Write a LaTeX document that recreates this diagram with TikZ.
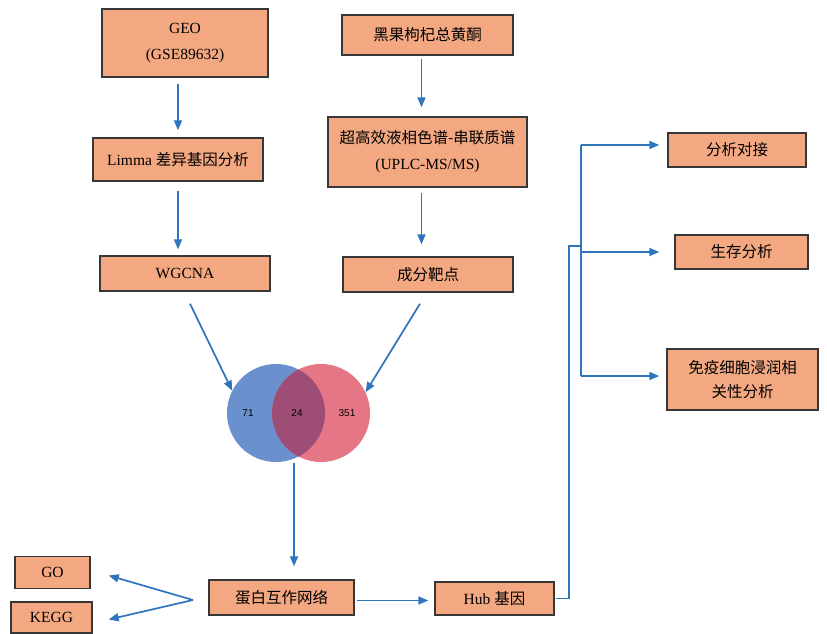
\documentclass[tikz,border=0pt]{standalone}
\usepackage{fontspec}
\setmainfont{Liberation Serif}
\newfontfamily\cjk{Noto Sans CJK SC}
\newfontfamily\arialf{Liberation Sans}
\usetikzlibrary{arrows.meta,calc}
\definecolor{boxfill}{RGB}{243,168,130}
\definecolor{boxline}{RGB}{55,55,55}
\definecolor{arrowblue}{RGB}{46,117,190}
\definecolor{vennblue}{RGB}{106,145,205}
\definecolor{vennred}{RGB}{228,118,134}
\definecolor{vennmix}{RGB}{158,78,118}
\begin{document}
\begin{tikzpicture}[x=1pt,y=-1pt,
  box/.style={draw=boxline,line width=1.4pt,fill=boxfill,inner sep=0pt,align=center,
    font=\fontsize{15.5}{26}\selectfont},
  arr/.style={draw=arrowblue,line width=1.7pt,-{Triangle[length=10pt,width=8pt]}},
  ln/.style={draw=arrowblue,line width=1.7pt},
  num/.style={font=\arialf\fontsize{10}{11}\selectfont,inner sep=0pt}]
\useasboundingbox (0,0) rectangle (827,633);
\fill[white] (0,0) rectangle (827,633);

% boxes
\node[box,minimum width=166pt,minimum height=68pt] (geo) at (185,43) {GEO\\(GSE89632)};
\node[box,minimum width=171pt,minimum height=40pt] (hei) at (427.5,35) {\cjk 黑果枸杞总黄酮};
\node[box,minimum width=170pt,minimum height=43pt] (limma) at (178,159.5) {Limma {\cjk 差异基因分析}};
\node[box,minimum width=199pt,minimum height=70pt] (uplc) at (427.5,152) {{\cjk 超高效液相色谱-串联质谱}\\(UPLC-MS/MS)};
\node[box,minimum width=170pt,minimum height=35pt] (wgcna) at (185,273.5) {WGCNA};
\node[box,minimum width=170pt,minimum height=35pt] (cf) at (428,274.5) {\cjk 成分靶点};
\node[box,minimum width=145pt,minimum height=35pt] (ppi) at (281.5,597.5) {\cjk 蛋白互作网络};
\node[box,minimum width=75pt,minimum height=32pt] (go) at (52.5,572.5) {GO};
\node[box,minimum width=81pt,minimum height=31pt] (kegg) at (51.5,617.5) {KEGG};
\node[box,minimum width=119pt,minimum height=33pt] (hub) at (494.5,598.5) {Hub {\cjk 基因}};
\node[box,minimum width=138pt,minimum height=34pt] (dock) at (737,150) {\cjk 分析对接};
\node[box,minimum width=133pt,minimum height=34pt] (surv) at (741.5,252) {\cjk 生存分析};
\node[box,minimum width=151pt,minimum height=61pt,font=\cjk\fontsize{15.5}{24}\selectfont] (immu) at (742.5,379.5) {免疫细胞浸润相\\关性分析};

% venn
\node[circle,minimum size=98pt,inner sep=0pt,fill=vennblue] (vb) at (276,413) {};
\node[circle,minimum size=98pt,inner sep=0pt,fill=vennred] (vr) at (321,413) {};
\begin{scope}
  \clip (276,413) circle (49pt);
  \fill[vennmix] (321,413) circle (49pt);
\end{scope}
\node[num] (n71) at (248,413) {71};
\node[num] (n24) at (297,413) {24};
\node[num] (n351) at (347,413) {351};

% arrows
\draw[arr,shorten <=6pt,shorten >=7pt] (limma.north |- geo.south) -- (limma.north);
\draw[arr,shorten <=3pt,shorten >=9pt] ($(hei.south)+(-6,0)$) -- ($(hei.south |- uplc.north)+(-6,0)$);
\draw[arr,shorten <=9pt,shorten >=6pt] (limma.south) -- (limma.south |- wgcna.north);
\draw[arr,shorten <=5pt,shorten >=12pt] ($(uplc.south)+(-6,0)$) -- ($(uplc.south |- cf.north)+(-6,0)$);
\draw[arr] ($(wgcna.south)+(5,12)$) -- (vb.153);
\draw[arr] ($(cf.south)+(-8,11)$) -- (vr.25);
\coordinate (vbot) at (294,463);
\draw[arr,shorten >=13pt] (vbot) -- (vbot |- ppi.north);
\coordinate (apex) at (193,600);
\draw[arr] (apex) -- ($(go.east)+(18,3)$);
\draw[arr] (apex) -- ($(kegg.east)+(16,2)$);
\draw[arr,shorten <=2pt,shorten >=6pt] ($(ppi.east)+(0,3)$) -- ($(ppi.east -| hub.west)+(0,3)$);

\coordinate (bj) at (581,246);
\coordinate (btop) at (581,145);
\coordinate (bmid) at (581,252);
\coordinate (bbot) at (581,376);
\draw[ln] ($(hub.east)+(1,0)$) -- ($(hub.east)+(14,0)$) |- (bj);
\draw[ln] (btop) -- (bbot);
\draw[arr,shorten >=8pt] (btop) -- (btop -| dock.west);
\draw[arr,shorten >=15pt] (bmid) -- (bmid -| surv.west);
\draw[arr,shorten >=7pt] (bbot) -- (bbot -| immu.west);
\end{tikzpicture}
\end{document}
